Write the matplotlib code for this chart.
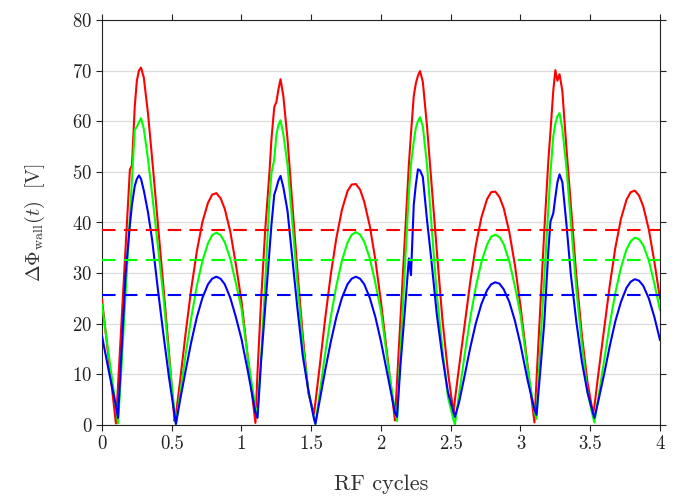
import numpy as np
import matplotlib
matplotlib.use('Agg')
import matplotlib.pyplot as plt

plt.rcParams['font.family'] = 'cmr10'
plt.rcParams['mathtext.fontset'] = 'cm'
plt.rcParams['axes.formatter.use_mathtext'] = True

# RF cycles (shared time axis for the three curves)
t_rf = [0.00, 0.05, 0.10, 0.115, 0.14, 0.17, 0.20, 0.215, 0.235, 0.25, 0.265, 0.28, 0.30, 0.33, 0.36, 0.40,
        0.44, 0.48, 0.52, 0.53, 0.56, 0.60, 0.64, 0.68, 0.72, 0.76, 0.79, 0.82, 0.85, 0.88, 0.92, 0.96,
        1.00, 1.05, 1.10, 1.115, 1.14, 1.17, 1.20, 1.215, 1.235, 1.25, 1.265, 1.28, 1.30, 1.33, 1.36, 1.40,
        1.44, 1.48, 1.52, 1.53, 1.56, 1.60, 1.64, 1.68, 1.72, 1.76, 1.79, 1.82, 1.85, 1.88, 1.92, 1.96,
        2.00, 2.05, 2.10, 2.115, 2.14, 2.17, 2.20, 2.215, 2.235, 2.25, 2.265, 2.28, 2.30, 2.33, 2.36, 2.40,
        2.44, 2.48, 2.52, 2.53, 2.56, 2.60, 2.64, 2.68, 2.72, 2.76, 2.79, 2.82, 2.85, 2.88, 2.92, 2.96,
        3.00, 3.05, 3.10, 3.115, 3.14, 3.17, 3.20, 3.215, 3.235, 3.25, 3.265, 3.28, 3.30, 3.33, 3.36, 3.40,
        3.44, 3.48, 3.52, 3.53, 3.56, 3.60, 3.64, 3.68, 3.72, 3.76, 3.79, 3.82, 3.85, 3.88, 3.92, 3.96,
        4.00]

# wall potential drop [V]
phi_red = [24.8, 12.5, 0.3, 7.8, 20.3, 35.3, 50.4, 51.3, 62.9, 68.0, 70.0, 70.6, 68.6, 61.5, 52.5, 40.0,
           27.5, 14.5, 0.8, 2.0, 8.7, 18.2, 26.9, 34.3, 40.1, 43.9, 45.5, 45.8, 44.8, 42.7, 38.2, 31.7,
           24.5, 12.2, 0.4, 10.4, 24.3, 38.5, 49.7, 56.5, 62.8, 63.8, 66.3, 68.3, 65.0, 56.5, 45.3, 30.8,
           17.5, 6.2, 2.2, 4.5, 11.4, 21.0, 29.7, 36.9, 42.5, 46.2, 47.5, 47.6, 46.5, 44.1, 39.3, 32.6,
           24.3, 12.6, 0.9, 8.5, 21.2, 36.5, 51.5, 57.5, 65.0, 67.5, 69.0, 69.9, 67.8, 59.0, 48.5, 34.5,
           21.0, 10.5, 2.3, 5.0, 11.5, 19.8, 28.3, 35.5, 41.0, 44.6, 46.0, 46.1, 45.0, 42.8, 38.1, 31.6,
           23.5, 12.0, 0.5, 9.0, 22.0, 38.0, 52.3, 58.0, 66.0, 70.1, 68.0, 69.3, 66.0, 54.5, 43.9, 29.6,
           17.8, 8.5, 2.3, 3.7, 10.5, 19.0, 27.6, 35.0, 40.7, 44.5, 46.0, 46.3, 45.3, 43.2, 38.6, 32.2,
           25.0]
phi_green = [23.8, 13.6, 3.6, 0.3, 11.5, 26.3, 41.0, 48.4, 58.3, 58.9, 59.8, 60.6, 58.5, 52.5, 45.5, 35.5,
             25.5, 13.5, 2.5, 0.2, 6.1, 14.0, 21.2, 27.5, 32.4, 35.9, 37.5, 38.0, 37.5, 36.1, 32.8, 28.0,
             23.0, 12.5, 3.5, 2.0, 13.0, 28.0, 44.4, 49.8, 52.5, 57.3, 59.3, 60.2, 57.5, 51.4, 41.5, 28.3,
             16.0, 6.5, 1.5, 0.2, 6.1, 14.1, 21.3, 27.5, 32.5, 36.0, 37.6, 38.1, 37.6, 36.2, 32.9, 28.0,
             22.5, 12.0, 2.8, 0.8, 14.9, 30.3, 45.8, 51.5, 56.0, 58.7, 60.0, 60.8, 59.0, 51.4, 40.3, 26.0,
             15.1, 5.5, 1.0, 0.1, 6.1, 13.9, 21.1, 27.3, 32.2, 35.6, 37.2, 37.6, 37.1, 35.7, 32.3, 27.4,
             21.8, 11.5, 2.5, 1.2, 14.6, 28.7, 42.8, 49.9, 57.0, 59.5, 61.0, 61.6, 58.5, 50.7, 40.4, 27.0,
             16.0, 6.5, 1.5, 0.5, 5.7, 12.8, 19.9, 26.1, 31.1, 34.7, 36.3, 37.0, 36.7, 35.5, 32.5, 27.9,
             22.7]
phi_blue = [17.6, 10.5, 3.8, 1.4, 14.5, 30.0, 39.5, 43.5, 47.2, 48.6, 49.3, 48.6, 46.3, 42.0, 36.5, 27.0,
            18.0, 9.5, 2.0, 0.2, 4.9, 10.8, 16.4, 21.3, 25.1, 27.8, 28.9, 29.3, 28.9, 27.8, 25.1, 21.3,
            17.0, 10.0, 2.5, 1.4, 12.3, 23.3, 34.2, 39.6, 45.5, 46.8, 48.3, 49.2, 47.0, 42.3, 34.2, 23.3,
            13.5, 6.8, 1.2, 0.2, 4.7, 10.8, 16.4, 21.3, 25.1, 27.8, 28.9, 29.3, 28.9, 27.8, 25.1, 21.3,
            16.5, 9.5, 2.5, 1.6, 11.9, 22.2, 32.9, 29.6, 43.5, 47.5, 50.5, 50.3, 49.0, 40.5, 32.9, 21.9,
            13.5, 6.5, 2.5, 1.6, 4.5, 9.8, 15.3, 20.1, 23.9, 26.6, 27.8, 28.2, 27.9, 26.8, 24.3, 20.6,
            15.9, 9.0, 3.0, 2.0, 10.0, 20.0, 34.5, 40.2, 41.8, 45.0, 48.0, 49.5, 48.0, 39.5, 30.0, 20.5,
            12.5, 6.5, 2.3, 1.4, 5.0, 10.1, 15.6, 20.5, 24.3, 27.1, 28.3, 28.8, 28.5, 27.5, 25.0, 21.3,
            16.8]

# time averages (dashed)
mean_red = 38.5
mean_green = 32.5
mean_blue = 25.6

fig = plt.figure(figsize=(6.83, 5.0), dpi=100)
ax = fig.add_axes([0.1493, 0.15, 0.817, 0.81])

curves = [(phi_red, mean_red, '#ff0000'),
          (phi_green, mean_green, '#00ff00'),
          (phi_blue, mean_blue, '#0000ff')]
for phi, m, c in curves:
    ax.plot(t_rf, phi, color=c, lw=1.5, zorder=3)
for phi, m, c in curves:
    ax.plot([0, 4], [m, m], color=c, lw=1.5, dashes=(6.5, 4), zorder=4)

ax.set_xlim(0, 4)
ax.set_ylim(0, 80)
ax.set_xticks(np.arange(0, 4.01, 0.5))
ax.set_yticks(np.arange(0, 81, 10))
ax.set_xticklabels(['0', '0.5', '1', '1.5', '2', '2.5', '3', '3.5', '4'])
ax.yaxis.grid(True, color='#dcdcdc', lw=0.9, zorder=0)
ax.set_axisbelow(True)

ax.tick_params(direction='out', length=4.5, width=0.8, colors='#222222', labelsize=13.5,
               top=True, right=True, labelcolor='#222222', pad=2.5)
for s in ax.spines.values():
    s.set_linewidth(0.8)
    s.set_color('#222222')

ax.set_xlabel('RF cycles', fontsize=16, color='#333333', labelpad=16)
ax.set_ylabel(r'$\Delta\Phi_{\rm wall}(t)\ \ [{\rm V}]$', fontsize=14.5, color='#333333', labelpad=18)

fig.savefig('out.png', dpi=100)
